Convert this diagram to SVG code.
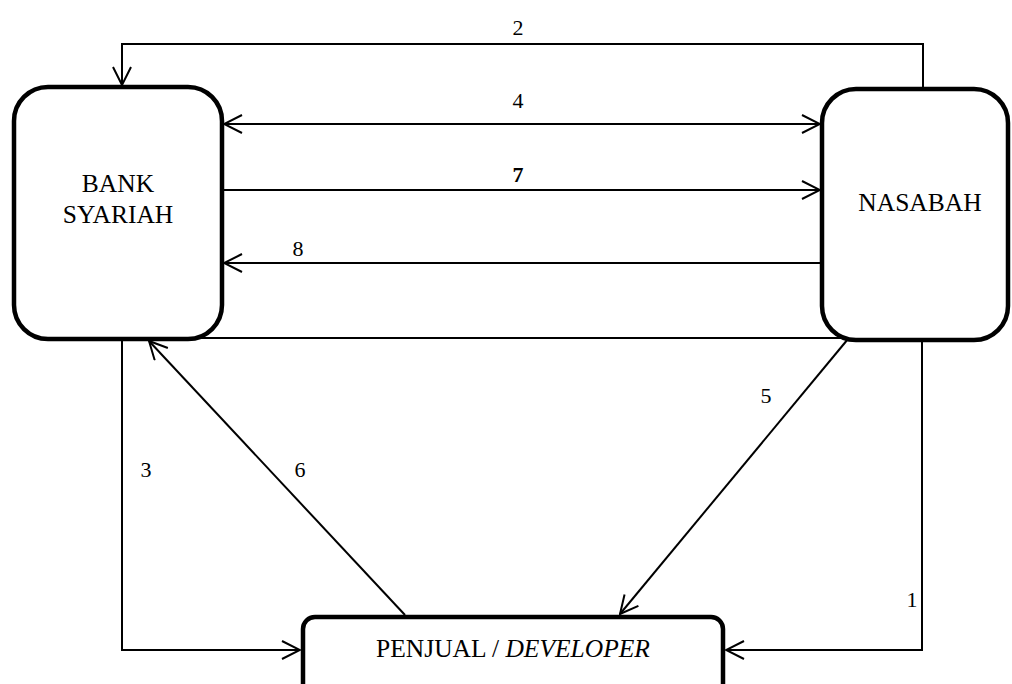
<svg xmlns="http://www.w3.org/2000/svg" width="1012" height="684" viewBox="0 0 1012 684">
  <style>
    .box { fill: #fff; stroke: #000; stroke-width: 4.5; }
    .flow { fill: none; stroke: #000; stroke-width: 2; }
    .lbl { font-family: "Liberation Serif", "Times New Roman", serif; font-size: 22px; fill: #000; text-anchor: middle; }
    .name { font-family: "Liberation Serif", "Times New Roman", serif; font-size: 25.5px; fill: #000; text-anchor: middle; }
  </style>
  <defs>
    <marker id="open" viewBox="0 0 20 20" refX="19" refY="10" markerWidth="20" markerHeight="20" markerUnits="userSpaceOnUse" orient="auto-start-reverse">
      <path d="M1,1 L19,10 L1,19" fill="none" stroke="#000" stroke-width="2"/>
    </marker>
  </defs>

  <rect width="1012" height="684" fill="#fff"/>

  <g id="connectors">
    <!-- 2: Nasabah to Bank over the top -->
    <polyline class="flow" points="923,89 923,44 122,44 122,85" marker-end="url(#open)"/>
    <!-- 4: two-way Bank / Nasabah -->
    <line class="flow" x1="224" y1="124" x2="820" y2="124" marker-start="url(#open)" marker-end="url(#open)"/>
    <!-- 7: Bank to Nasabah -->
    <line class="flow" x1="224" y1="190" x2="820" y2="190" marker-end="url(#open)"/>
    <!-- 8: Nasabah to Bank -->
    <line class="flow" x1="822" y1="263" x2="224" y2="263" marker-end="url(#open)"/>
    <!-- plain link along the box bottoms -->
    <line class="flow" x1="196" y1="338" x2="848" y2="338"/>
    <!-- 3: Bank to Penjual -->
    <polyline class="flow" points="122,339 122,650 300,650" marker-end="url(#open)"/>
    <!-- 6: Penjual to Bank -->
    <line class="flow" x1="405" y1="615" x2="149" y2="341" marker-end="url(#open)"/>
    <!-- 5: Nasabah to Penjual -->
    <line class="flow" x1="848" y1="339" x2="620" y2="614" marker-end="url(#open)"/>
    <!-- 1: Nasabah to Penjual down the right side -->
    <polyline class="flow" points="922,340 922,650 726,650" marker-end="url(#open)"/>
  </g>

  <g id="bank-syariah">
    <rect class="box" x="14" y="87" width="208" height="252" rx="34" ry="34"/>
    <text class="name" x="118" y="192">BANK</text>
    <text class="name" x="118" y="223">SYARIAH</text>
  </g>

  <g id="nasabah">
    <rect class="box" x="822" y="89" width="186" height="251" rx="34" ry="34"/>
    <text class="name" x="920" y="211">NASABAH</text>
  </g>

  <g id="penjual">
    <rect class="box" x="303" y="617" width="420" height="80" rx="12" ry="12"/>
    <text class="name" x="513" y="657">PENJUAL / <tspan font-style="italic">DEVELOPER</tspan></text>
  </g>

  <g id="labels">
    <text class="lbl" x="518" y="35">2</text>
    <text class="lbl" x="518" y="108">4</text>
    <text class="lbl" x="518" y="182" font-weight="bold" font-size="25px">7</text>
    <text class="lbl" x="298" y="256">8</text>
    <text class="lbl" x="146" y="477">3</text>
    <text class="lbl" x="300" y="477">6</text>
    <text class="lbl" x="766" y="403">5</text>
    <text class="lbl" x="912" y="607">1</text>
  </g>
</svg>
